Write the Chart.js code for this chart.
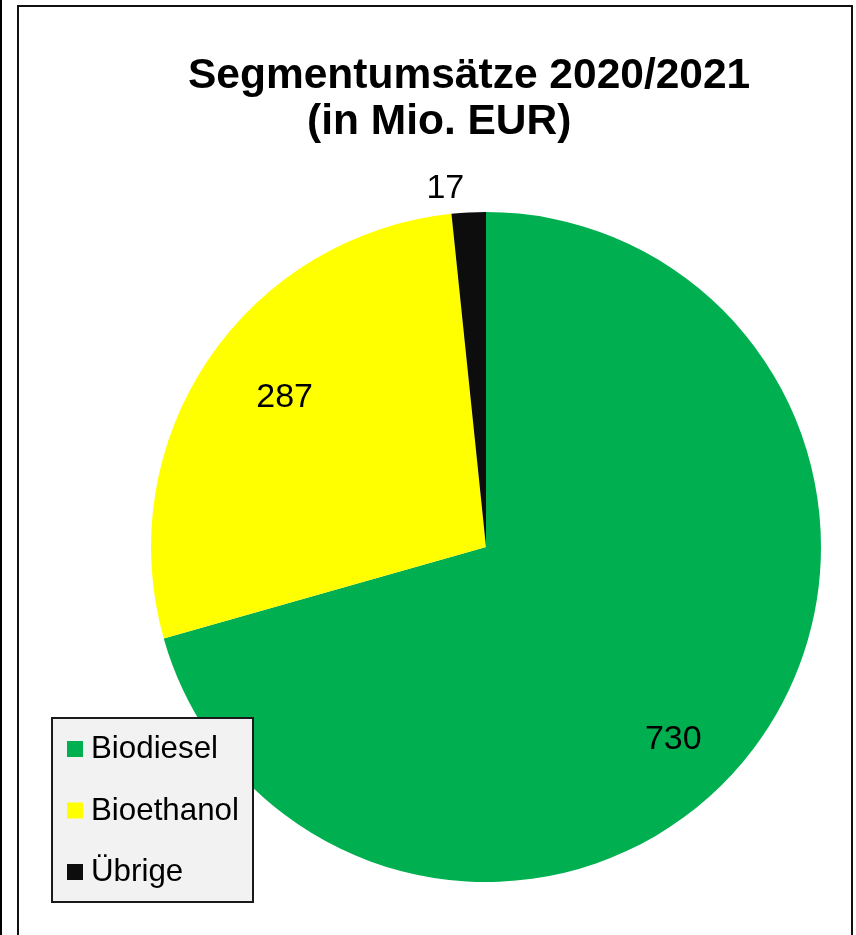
<!DOCTYPE html>
<html lang="de">
<head>
    <meta charset="UTF-8">
    <title>Segmentumsätze 2020/2021</title>
    <style>
        body {
            margin: 0;
            background: #fff;
            width: 856px;
            height: 935px;
            overflow: hidden;
            position: relative;
        }

        .left-rule {
            position: absolute;
            left: 0;
            top: 0;
            width: 2px;
            height: 935px;
            background: #000;
        }

        .frame {
            position: absolute;
            left: 17px;
            top: 5px;
            width: 832px;
            height: 940px;
            border: 2px solid #111;
        }

        #pieChart {
            position: absolute;
            left: 0;
            top: 0;
        }
    </style>
</head>
<body>
<div class="left-rule"></div>
<div class="frame"></div>
<canvas id="pieChart" width="856" height="935"></canvas>
<script src="https://cdn.jsdelivr.net/npm/chart.js"></script>
<script>
    // Daten
    const categories = ['Biodiesel', 'Bioethanol', 'Übrige'];
    const revenue = [730, 287, 17];
    const sliceColors = ['#00B050', '#FFFF00', '#0D0D0D'];
    const titleLines = ['Segmentumsätze 2020/2021', '(in Mio. EUR)'];

    // Lage der Werte-Beschriftung (Winkelversatz in Grad, Radius-Anteil)
    const labelAngleShift = [8.6, 2.6, -3.5];
    const labelRadius = [0.80, 0.75, 1.08];

    const FONT = '"Liberation Sans", Arial, sans-serif';

    const chartDecor = {
        id: 'chartDecor',
        afterDraw(chart) {
            const ctx = chart.ctx;
            ctx.save();

            // Titel
            ctx.fillStyle = '#000';
            ctx.font = 'bold 42.5px ' + FONT;
            ctx.textAlign = 'left';
            ctx.textBaseline = 'alphabetic';
            ctx.fillText(titleLines[0], 188, 88);
            ctx.fillText(titleLines[1], 307, 134);

            // Werte an den Segmenten
            const meta = chart.getDatasetMeta(0);
            ctx.font = '34px ' + FONT;
            ctx.textAlign = 'center';
            ctx.textBaseline = 'middle';
            meta.data.forEach((arc, i) => {
                const mid = (arc.startAngle + arc.endAngle) / 2 + labelAngleShift[i] * Math.PI / 180;
                const r = arc.outerRadius * labelRadius[i];
                const x = arc.x + Math.cos(mid) * r;
                const y = arc.y + Math.sin(mid) * r;
                ctx.fillText(String(revenue[i]), x, y + 1);
            });

            // Legende
            const box = {x: 52, y: 718, w: 201, h: 184};
            ctx.fillStyle = '#F2F2F2';
            ctx.fillRect(box.x, box.y, box.w, box.h);
            ctx.strokeStyle = '#1a1a1a';
            ctx.lineWidth = 2;
            ctx.strokeRect(box.x, box.y, box.w, box.h);

            ctx.font = '31.3px ' + FONT;
            ctx.textAlign = 'left';
            ctx.textBaseline = 'alphabetic';
            categories.forEach((name, i) => {
                const base = 758 + i * 61.5;
                ctx.fillStyle = sliceColors[i];
                ctx.fillRect(67, base - 17, 16, 16);
                ctx.fillStyle = '#000';
                ctx.fillText(name, 91, base);
            });

            ctx.restore();
        }
    };

    new Chart(document.getElementById('pieChart'), {
        type: 'pie',
        data: {
            labels: categories,
            datasets: [{
                data: revenue,
                backgroundColor: sliceColors,
                borderWidth: 0
            }]
        },
        options: {
            responsive: false,
            animation: false,
            devicePixelRatio: 1,
            layout: {
                padding: {left: 151, right: 35, top: 212, bottom: 53}
            },
            plugins: {
                legend: {display: false},
                title: {display: false},
                tooltip: {enabled: false}
            }
        },
        plugins: [chartDecor]
    });
</script>
</body>
</html>
